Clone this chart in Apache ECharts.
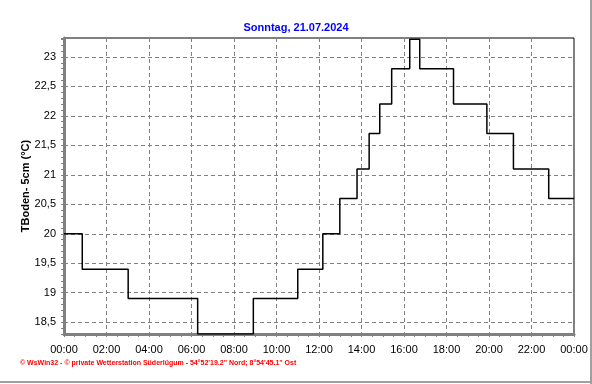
<!DOCTYPE html>
<html><head><meta charset="utf-8">
<script src="https://cdn.jsdelivr.net/npm/echarts@6/dist/echarts.min.js"></script>
<style>html,body{margin:0;padding:0;background:#fff}#c{width:592px;height:384px}</style>
</head><body><div id="c"></div>
<script>
const titleText = 'Sonntag, 21.07.2024';
const yName = 'TBoden- 5cm (°C)';
const footerText = '\u00A9 WsWin32 - \u00A9 private Wetterstation S\u00FCderl\u00FCgum - 54\u00B052\'19.2" Nord; 8\u00B054\'45.1" Ost';
const hours = [0, 0.86, 3.02, 6.29, 8.91, 11.0, 12.18, 12.98, 13.79, 14.36, 14.86, 15.42, 16.27, 16.74, 18.33, 19.9, 21.15, 22.81, 24];
const temps = [20.0, 19.4, 18.9, 18.3, 18.9, 19.4, 20.0, 20.6, 21.1, 21.7, 22.2, 22.8, 23.3, 22.8, 22.2, 21.7, 21.1, 20.6, 20.6];
const xTickLabels = ['00:00','02:00','04:00','06:00','08:00','10:00','12:00','14:00','16:00','18:00','20:00','22:00','00:00'];
const yTickValues = [18.5, 19, 19.5, 20, 20.5, 21, 21.5, 22, 22.5, 23];

const chart = echarts.init(document.getElementById('c'), null, {renderer: 'canvas'});
const font = 'Liberation Sans';
const yMin = 18.3, yMax = 23.32;
chart.setOption({
  animation: false,
  backgroundColor: '#ffffff',
  title: {
    text: titleText, left: 'center', top: 17,
    textStyle: {color: '#0000ff', fontSize: 11, fontWeight: 'bold', fontFamily: font}
  },
  grid: {left: 64, right: 18, top: 38, bottom: 50, show: true, borderColor: '#000', borderWidth: 1, backgroundColor: 'transparent'},
  xAxis: {
    type: 'value', min: 0, max: 24, interval: 2,
    axisLine: {show: true, onZero: false, lineStyle: {color: '#808080', width: 3}},
    axisTick: {show: true, length: 3, lineStyle: {color: '#808080', width: 1}},
    minorTick: {show: true, splitNumber: 4, length: 3, lineStyle: {color: '#808080', width: 1}},
    axisLabel: {margin: 10, color: '#000', fontSize: 11, fontFamily: font,
      formatter: v => xTickLabels[Math.round(v / 2)] || ''},
    splitLine: {show: true, lineStyle: {color: '#808080', width: 1, type: [4, 3]}}
  },
  yAxis: [{
    type: 'value', min: yMin, max: yMax, minInterval: 0.5, maxInterval: 0.5,
    name: yName, nameLocation: 'middle', nameGap: 33, nameMoveOverlap: false,
    nameTextStyle: {color: '#000', fontSize: 11, fontWeight: 'bold', fontFamily: font},
    axisLine: {show: true, lineStyle: {color: '#808080', width: 3}},
    axisTick: {show: false},
    axisLabel: {margin: 8, color: '#000', fontSize: 11, fontFamily: font,
      formatter: v => {
        const m = yTickValues.find(t => Math.abs(t - v) < 1e-6);
        return m === undefined ? '' : String(m).replace('.', ',');
      }},
    splitLine: {show: true, lineStyle: {color: '#808080', width: 1, type: [4, 3]}}
  }, {
    type: 'value', min: yMin, max: yMax, interval: 0.1, position: 'left', offset: 0,
    axisLine: {show: false},
    axisTick: {show: true, length: 3, lineStyle: {color: '#808080', width: 1}},
    axisLabel: {show: false},
    splitLine: {show: false}
  }],
  graphic: [
    {type: 'text', left: 20, top: 360, style: {text: footerText, fill: '#ff0000', font: 'bold 7px "Liberation Sans Narrow", "Liberation Sans", sans-serif'}},
    {type: 'line', shape: {x1: 591, y1: 0, x2: 591, y2: 384}, style: {stroke: '#a0a0a0', lineWidth: 2}},
    {type: 'line', shape: {x1: 0, y1: 382, x2: 592, y2: 382}, style: {stroke: '#a0a0a0', lineWidth: 2}}
  ],
  series: [{
    type: 'line', step: 'end', yAxisIndex: 0,
    data: hours.map((h, i) => [h, temps[i]]),
    showSymbol: false, symbol: 'none',
    lineStyle: {color: '#000', width: 1.5},
    z: 5
  }]
});
</script></body></html>
